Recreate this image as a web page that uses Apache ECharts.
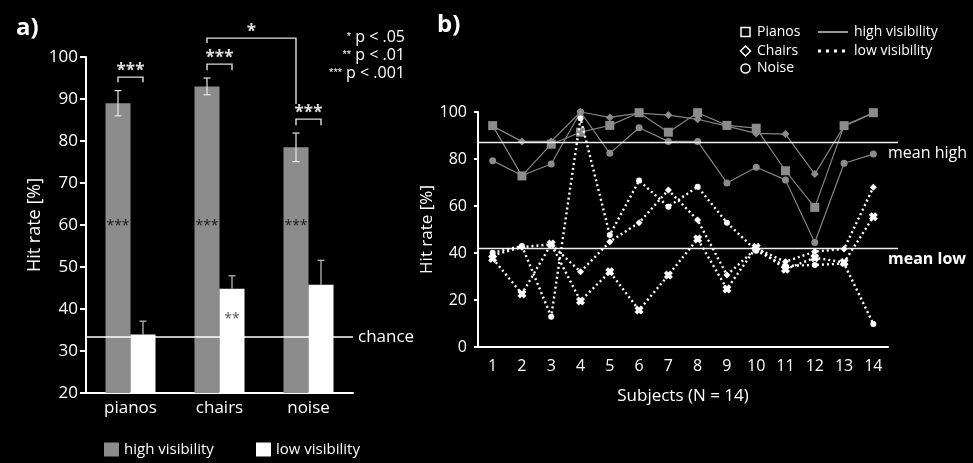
<!DOCTYPE html>
<html>
<head>
<meta charset="utf-8">
<script src="https://cdn.jsdelivr.net/npm/echarts@6/dist/echarts.min.js"></script>
<style>
  html, body { margin: 0; padding: 0; background: #000; }
  #chart { width: 973px; height: 463px; }
</style>
</head>
<body>
<div id="chart"></div>
<script>
// ---- Panel a: mean hit rates per stimulus category ----
const categories = ['pianos', 'chairs', 'noise'];
const highMeans = [89.0, 93.0, 78.5];
const highErr = [3.0, 2.0, 3.4];
const lowMeans = [33.9, 44.8, 45.8];
const lowErr = [3.2, 3.1, 5.8];
const chanceLevel = 100 / 3;
const yTicksA = [20, 30, 40, 50, 60, 70, 80, 90, 100];

// ---- Panel b: individual subjects ----
const subjects = ['1', '2', '3', '4', '5', '6', '7', '8', '9', '10', '11', '12', '13', '14'];
const pianosHigh = [94.2, 72.8, 86.3, 91.4, 94.3, 99.7, 91.4, 99.7, 94.3, 93.1, 75.0, 59.4, 94.2, 99.7];
const chairsHigh = [94.0, 87.5, 87.5, 100, 97.7, 99.5, 98.7, 96.9, 94.0, 90.9, 90.6, 73.6, 94.0, 99.5];
const noiseHigh  = [79.3, 73.0, 77.9, 100, 82.4, 93.3, 87.5, 87.5, 69.8, 76.5, 71.1, 44.5, 78.2, 82.1];
const pianosLow  = [37.7, 22.6, 43.8, 19.6, 32.0, 15.7, 30.6, 46.0, 24.7, 42.4, 33.1, 38.0, 36.0, 55.4];
const chairsLow  = [39.0, 42.5, 43.7, 32.0, 44.8, 52.9, 66.8, 54.0, 30.6, 42.0, 36.3, 40.6, 41.7, 68.0];
const noiseLow   = [40.1, 43.0, 12.9, 97.3, 47.7, 70.8, 59.7, 68.2, 52.9, 41.0, 34.5, 34.9, 35.5, 9.8];
const yTicksB = [0, 20, 40, 60, 80, 100];

const FONT = '"Open Sans", "DejaVu Sans", sans-serif';
const GREY = '#8c8c8c';
const BAR_W = 25;

function avg(arrs) {
  let s = 0, n = 0;
  arrs.forEach(a => a.forEach(v => { s += v; n++; }));
  return s / n;
}
const meanHigh = avg([pianosHigh, chairsHigh, noiseHigh]);
const meanLow = avg([pianosLow, chairsLow, noiseLow]);

// error bar rows: [category index, mean, error, side(0 = high bar, 1 = low bar)]
const errorRows = categories.map((c, i) => [i, highMeans[i], highErr[i], 0])
  .concat(categories.map((c, i) => [i, lowMeans[i], lowErr[i], 1]));

function renderErrorBar(params, api) {
  const cat = api.value(0), m = api.value(1), e = api.value(2), side = api.value(3);
  const x = api.coord([cat, m])[0] + (side === 0 ? -BAR_W / 2 : BAR_W / 2);
  const yTop = api.coord([cat, m + e])[1];
  const yBot = api.coord([cat, side === 0 ? m - e : m])[1];
  const cap = 3.5;
  const stroke = side === 0 ? '#e8e8e8' : '#c4c4c4';
  const st = { stroke: stroke, lineWidth: 1.2 };
  const children = [
    { type: 'line', shape: { x1: x, y1: yTop, x2: x, y2: yBot }, style: st },
    { type: 'line', shape: { x1: x - cap, y1: yTop, x2: x + cap, y2: yTop }, style: st }
  ];
  if (side === 0) {
    children.push({ type: 'line', shape: { x1: x - cap, y1: yBot, x2: x + cap, y2: yBot }, style: st });
  }
  return { type: 'group', children: children };
}

// significance brackets: ends given as [category, side(-1 high bar, +1 low bar)]
const brackets = [
  { a: [0, -1], b: [0, 1], level: 95.2, legA: 5, legB: 5, text: '***' },
  { a: [1, -1], b: [1, 1], level: 98.3, legA: 6, legB: 6, text: '***' },
  { a: [2, -1], b: [2, 1], level: 85.2, legA: 6, legB: 6, text: '***' },
  { a: [1, -1], b: [2, -1], level: 104.5, legA: 5, legBTo: 88.8, text: '*' }
];
// asterisks drawn inside bars (difference from chance)
const inBarMarks = [
  { cat: 0, side: -1, level: 60.7, text: '***' },
  { cat: 1, side: -1, level: 60.7, text: '***' },
  { cat: 2, side: -1, level: 60.7, text: '***' },
  { cat: 1, side: 1, level: 38.6, text: '**' }
];

function renderAnnotations(params, api) {
  const px = (cat, side) => api.coord([cat, 50])[0] + side * BAR_W / 2;
  const py = v => api.coord([0, v])[1];
  const children = [];
  const st = { stroke: '#e0e0e0', lineWidth: 1.4, fill: null };
  brackets.forEach(b => {
    const xa = px(b.a[0], b.a[1]), xb = px(b.b[0], b.b[1]);
    const y = py(b.level);
    const yA = y + b.legA;
    const yB = b.legBTo !== undefined ? py(b.legBTo) : y + b.legB;
    children.push({ type: 'polyline', shape: { points: [[xa, yA], [xa, y], [xb, y], [xb, yB]] }, style: st });
    children.push({ type: 'text', style: {
      text: b.text, x: (xa + xb) / 2, y: y - 6, align: 'center', verticalAlign: 'middle',
      fill: '#e0e0e0', font: 'bold 17px ' + FONT } });
  });
  inBarMarks.forEach(m => {
    children.push({ type: 'text', style: {
      text: m.text, x: px(m.cat, m.side), y: py(m.level) + 4, align: 'center', verticalAlign: 'middle',
      fill: m.side < 0 ? '#1a1a1a' : '#555', font: '14px ' + FONT } });
  });
  return { type: 'group', children: children };
}

function renderMeanLine(params, api) {
  const cs = params.coordSys;
  const y = api.coord([0, api.value(1)])[1];
  const low = api.value(2) === 1;
  return { type: 'group', children: [
    { type: 'line', shape: { x1: cs.x, y1: y, x2: cs.x + cs.width + 10, y2: y },
      style: { stroke: '#f0f0f0', lineWidth: 1.5 } },
    { type: 'text', style: { text: low ? 'mean low' : 'mean high', x: cs.x + cs.width, y: y + 11,
      verticalAlign: 'middle', fill: '#fff', font: (low ? 'bold ' : '') + '16px ' + FONT } }
  ] };
}

const STAR = 'path://M0,3 L3,0 L5,2 L7,0 L10,3 L8,5 L10,7 L7,10 L5,8 L3,10 L0,7 L2,5 Z';

function highLine(name, data, symbol, size) {
  return { name: name, type: 'line', xAxisIndex: 1, yAxisIndex: 1, data: data, z: 2,
    symbol: symbol, symbolSize: size, showAllSymbol: true,
    lineStyle: { color: '#858585', width: 1.2 }, itemStyle: { color: GREY } };
}
function lowLine(name, data, symbol, size) {
  return { name: name, type: 'line', xAxisIndex: 1, yAxisIndex: 1, data: data, z: 4,
    symbol: symbol, symbolSize: size, showAllSymbol: true,
    lineStyle: { color: '#fff', width: 2.4, type: [2, 3] }, itemStyle: { color: '#fff' } };
}

const axisText = { color: '#fff', fontFamily: FONT };

const option = {
  backgroundColor: '#000',
  animation: false,
  textStyle: { fontFamily: FONT },
  grid: [
    { left: 86, top: 57, width: 267, height: 336 },
    { left: 478, top: 112, width: 410, height: 235 }
  ],
  xAxis: [
    { type: 'category', gridIndex: 0, data: categories,
      axisLine: { lineStyle: { color: '#fff', width: 2 } },
      axisTick: { length: 4, lineStyle: { color: '#fff', width: 2 } },
      axisLabel: Object.assign({ fontSize: 17, margin: 7 }, axisText) },
    { type: 'category', gridIndex: 1, data: subjects,
      name: 'Subjects (N = 14)', nameLocation: 'middle', nameGap: 41,
      nameTextStyle: Object.assign({ fontSize: 17 }, axisText),
      axisLine: { lineStyle: { color: '#fff', width: 2 } },
      axisTick: { length: 4, lineStyle: { color: '#fff', width: 2 } },
      axisLabel: Object.assign({ fontSize: 16, margin: 11 }, axisText) }
  ],
  yAxis: [
    { type: 'value', gridIndex: 0, min: yTicksA[0], max: yTicksA[yTicksA.length - 1], interval: 10,
      name: 'Hit rate [%]', nameLocation: 'middle', nameGap: 42,
      nameTextStyle: Object.assign({ fontSize: 18 }, axisText),
      splitLine: { show: false },
      axisLine: { show: true, lineStyle: { color: '#fff', width: 2 } },
      axisTick: { show: true, length: 6, lineStyle: { color: '#fff', width: 2 } },
      axisLabel: Object.assign({ fontSize: 17, margin: 8 }, axisText) },
    { type: 'value', gridIndex: 1, min: yTicksB[0], max: yTicksB[yTicksB.length - 1], interval: 20,
      name: 'Hit rate [%]', nameLocation: 'middle', nameGap: 36,
      nameTextStyle: Object.assign({ fontSize: 17 }, axisText),
      splitLine: { show: false },
      axisLine: { show: true, lineStyle: { color: '#fff', width: 2 } },
      axisTick: { show: true, length: 4, lineStyle: { color: '#fff', width: 2 } },
      axisLabel: Object.assign({ fontSize: 16, margin: 11 }, axisText) }
  ],
  legend: [
    { left: 99, top: 437, itemWidth: 15, itemHeight: 14, itemGap: 6, icon: 'rect',
      data: ['high visibility'], textStyle: { color: '#fff', fontSize: 15, fontFamily: FONT } },
    { left: 251, top: 437, itemWidth: 15, itemHeight: 14, itemGap: 6, icon: 'rect',
      data: ['low visibility'], textStyle: { color: '#fff', fontSize: 15, fontFamily: FONT } }
  ],
  graphic: [
    { type: 'text', left: 16, top: 16, style: { text: 'a)', fill: '#fff', font: 'bold 24px ' + FONT } },
    { type: 'text', left: 437, top: 13, style: { text: 'b)', fill: '#fff', font: 'bold 24px ' + FONT } },
    // significance key
    { type: 'text', right: 568, top: 29, style: { text: '{s|*} p < .05', align: 'right', fill: '#fff',
      font: '16px ' + FONT, rich: { s: { fontSize: 11, fill: '#fff' } } } },
    { type: 'text', right: 568, top: 47, style: { text: '{s|**} p < .01', align: 'right', fill: '#fff',
      font: '16px ' + FONT, rich: { s: { fontSize: 11, fill: '#fff' } } } },
    { type: 'text', right: 568, top: 65, style: { text: '{s|***} p < .001', align: 'right', fill: '#fff',
      font: '16px ' + FONT, rich: { s: { fontSize: 11, fill: '#fff' } } } },
    // panel b key
    { type: 'rect', shape: { x: 741, y: 27.5, width: 9, height: 9 }, style: { fill: null, stroke: '#fff', lineWidth: 1.5 } },
    { type: 'polygon', shape: { points: [[745.5, 46], [750.5, 51], [745.5, 56], [740.5, 51]] }, style: { fill: null, stroke: '#fff', lineWidth: 1.5 } },
    { type: 'circle', shape: { cx: 745.5, cy: 68.5, r: 4.5 }, style: { fill: null, stroke: '#fff', lineWidth: 1.5 } },
    { type: 'text', x: 757, y: 32, style: { text: 'Pianos', fill: '#fff', font: '14px ' + FONT, verticalAlign: 'middle' } },
    { type: 'text', x: 757, y: 51, style: { text: 'Chairs', fill: '#fff', font: '14px ' + FONT, verticalAlign: 'middle' } },
    { type: 'text', x: 757, y: 68.5, style: { text: 'Noise', fill: '#fff', font: '14px ' + FONT, verticalAlign: 'middle' } },
    { type: 'line', shape: { x1: 818, y1: 32, x2: 848, y2: 32 }, style: { stroke: '#9a9a9a', lineWidth: 2 } },
    { type: 'line', shape: { x1: 818, y1: 51, x2: 848, y2: 51 }, style: { stroke: '#fff', lineWidth: 3, lineDash: [3, 5] } },
    { type: 'text', x: 854, y: 32, style: { text: 'high visibility', fill: '#fff', font: '14px ' + FONT, verticalAlign: 'middle' } },
    { type: 'text', x: 854, y: 51, style: { text: 'low visibility', fill: '#fff', font: '14px ' + FONT, verticalAlign: 'middle' } }
  ],
  series: [
    { name: 'high visibility', type: 'bar', xAxisIndex: 0, yAxisIndex: 0, data: highMeans,
      barWidth: BAR_W, barGap: '0%', itemStyle: { color: GREY } },
    { name: 'low visibility', type: 'bar', xAxisIndex: 0, yAxisIndex: 0, data: lowMeans,
      barWidth: BAR_W, barGap: '0%', itemStyle: { color: '#fff' },
      markLine: { silent: true, symbol: 'none', data: [{ yAxis: chanceLevel }],
        lineStyle: { color: '#fff', width: 1.5, type: 'solid' },
        label: { position: 'end', formatter: 'chance', color: '#fff', fontSize: 17, fontFamily: FONT, distance: 5 } } },
    { type: 'custom', xAxisIndex: 0, yAxisIndex: 0, data: errorRows, renderItem: renderErrorBar, z: 5 },
    { type: 'custom', xAxisIndex: 0, yAxisIndex: 0, data: [[0, 50]], renderItem: renderAnnotations, z: 6 },

    highLine('Pianos high', pianosHigh, 'rect', 9),
    highLine('Chairs high', chairsHigh, 'diamond', 8),
    highLine('Noise high', noiseHigh, 'circle', 7),
    { type: 'custom', xAxisIndex: 1, yAxisIndex: 1, data: [[0, meanHigh, 0], [0, meanLow, 1]],
      renderItem: renderMeanLine, z: 3 },
    lowLine('Pianos low', pianosLow, STAR, 9),
    lowLine('Chairs low', chairsLow, 'diamond', 7),
    lowLine('Noise low', noiseLow, 'circle', 6)
  ]
};

const chart = echarts.init(document.getElementById('chart'), null, { renderer: 'canvas' });
chart.setOption(option);
</script>
</body>
</html>
